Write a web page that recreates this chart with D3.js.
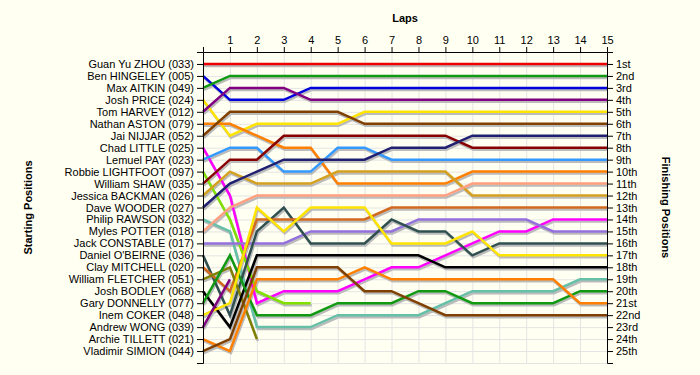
<!DOCTYPE html>
<html>
<head>
<meta charset="utf-8">
<script src="https://cdn.jsdelivr.net/npm/d3@7"></script>
<style>
  body { margin: 0; background: #fffff2; }
  text { font-family: "Liberation Sans", Arial, sans-serif; }
</style>
</head>
<body>
<div id="chart"></div>
<script>
// drivers in starting order
const drivers = [
  "Guan Yu ZHOU (033)", "Ben HINGELEY (005)", "Max AITKIN (049)", "Josh PRICE (024)",
  "Tom HARVEY (012)", "Nathan ASTON (079)", "Jai NIJJAR (052)", "Chad LITTLE (025)",
  "Lemuel PAY (023)", "Robbie LIGHTFOOT (097)", "William SHAW (035)", "Jessica BACKMAN (026)",
  "Dave WOODER (027)", "Philip RAWSON (032)", "Myles POTTER (018)", "Jack CONSTABLE (017)",
  "Daniel O'BEIRNE (036)", "Clay MITCHELL (020)", "William FLETCHER (051)", "Josh BODLEY (068)",
  "Gary DONNELLY (077)", "Inem COKER (048)", "Andrew WONG (039)", "Archie TILLETT (021)",
  "Vladimir SIMION (044)"
];

const colors = [
  "#ee0000", "#0000dd", "#119911", "#ffe400",
  "#800080", "#ff8000", "#804000", "#ff00ff",
  "#3399ff", "#80e000", "#880000", "#d4a020",
  "#202070", "#66c0a8", "#ffa080", "#9370db",
  "#305050", "#d2691e", "#808000", "#000000",
  "#119911", "#ffe400", "#800080", "#ff8000",
  "#804000"
];

// position at lap 0..15 (shorter arrays = retired)
const positions = [
  [1,1,1,1,1,1,1,1,1,1,1,1,1,1,1,1],
  [2,4,4,4,3,3,3,3,3,3,3,3,3,3,3,3],
  [3,2,2,2,2,2,2,2,2,2,2,2,2,2,2,2],
  [4,7,6,6,6,6,5,5,5,5,5,5,5,5,5,5],
  [5,3,3,3,4,4,4,4,4,4,4,4,4,4,4,4],
  [6,6,7,8,8,11,11,11,11,11,10,10,10,10,10,10],
  [7,5,5,5,5,5,6,6,6,6,6,6,6,6,6,6],
  [8,12,21,20,20,20,19,18,18,17,16,15,15,14,14,14],
  [9,8,8,10,10,8,8,9,9,9,9,9,9,9,9,9],
  [10,14,20,21,21],
  [11,9,9,7,7,7,7,7,7,7,8,8,8,8,8,8],
  [12,10,11,11,11,10,10,10,10,10,12,12,12,12,12,12],
  [13,11,10,9,9,9,9,8,8,8,7,7,7,7,7,7],
  [14,15,23,23,23,22,22,22,22,21,20,20,20,20,19,19],
  [15,13,12,12,12,12,12,12,12,12,11,11,11,11,11,11],
  [16,16,16,16,15,15,15,15,14,14,14,14,14,15,15,15],
  [17,22,15,13,16,16,16,14,15,15,17,16,16,16,16,16],
  [18,20,14,14,14,14,14,13,13,13,13,13,13,13,13,13],
  [19,18,24],
  [20,23,17,17,17,17,17,17,17,18,18,18,18,18,18,18],
  [21,17,22,22,22,21,21,21,20,20,21,21,21,21,20,20],
  [22,21,13,15,13,13,13,16,16,16,15,17,17,17,17,17],
  [23,19],
  [24,25,19,19,19,19,18,19,19,19,19,19,19,19,21,21],
  [25,24,18,18,18,18,20,20,21,22,22,22,22,22,22,22]
];

const laps = d3.range(0, 16);
const places = d3.range(1, 26);
const finishLabels = ["1st","2nd","3rd","4th","5th","6th","7th","8th","9th","10th",
  "11th","12th","13th","14th","15th","16th","17th","18th","19th","20th",
  "21st","22nd","23rd","24th","25th"];

const width = 700, height = 375;
const svg = d3.select("#chart").append("svg")
    .attr("width", width)
    .attr("height", height);

const x = d3.scaleLinear().domain([0, 15]).range([203, 607]);
const y = d3.scaleLinear().domain([0, 26]).range([52, 363]);

// grid
svg.append("g").selectAll("line").data(laps).join("line")
    .attr("x1", d => x(d) + 0.5).attr("x2", d => x(d) + 0.5)
    .attr("y1", y(0)).attr("y2", y(26))
    .attr("stroke", "#e4e4e4");
svg.append("g").selectAll("line").data(d3.range(1, 27)).join("line")
    .attr("x1", x(0)).attr("x2", x(15))
    .attr("y1", d => y(d) + 0.5).attr("y2", d => y(d) + 0.5)
    .attr("stroke", "#e4e4e4");

const line = d3.line()
    .x((d, i) => x(i))
    .y(d => y(d));

// shadows first, then the coloured lines
svg.append("g")
    .attr("transform", "translate(1,2)")
  .selectAll("path").data(positions).join("path")
    .attr("fill", "none")
    .attr("stroke", "#bbbbbb")
    .attr("stroke-width", 2.5)
    .attr("d", line);

svg.append("g").selectAll("path").data(positions).join("path")
    .attr("fill", "none")
    .attr("stroke", (d, i) => colors[i])
    .attr("stroke-width", 2.5)
    .attr("d", line);

// axes
svg.append("g")
    .attr("transform", "translate(" + x(0) + ",0)")
    .call(d3.axisLeft(y).tickValues(places).tickSize(6).tickPadding(3)
        .tickFormat(d => drivers[d - 1]));

svg.append("g")
    .attr("transform", "translate(" + x(15) + ",0)")
    .call(d3.axisRight(y).tickValues(places).tickSize(6).tickPadding(3)
        .tickFormat(d => finishLabels[d - 1]));

svg.append("g")
    .attr("transform", "translate(0," + y(0) + ")")
    .call(d3.axisTop(x).tickValues(laps).tickSize(5).tickSizeOuter(0).tickPadding(3)
        .tickFormat(d => d === 0 ? "" : d));

svg.selectAll(".tick text")
    .attr("font-family", "Liberation Sans, Arial, sans-serif")
    .attr("font-size", 11)
    .attr("fill", "#000");

// titles
svg.append("text")
    .attr("x", (x(0) + x(15)) / 2).attr("y", 22)
    .attr("text-anchor", "middle")
    .attr("font-size", 11).attr("font-weight", "bold")
    .text("Laps");

svg.append("text")
    .attr("transform", "translate(32," + y(13) + ") rotate(-90)")
    .attr("text-anchor", "middle")
    .attr("font-size", 11).attr("font-weight", "bold")
    .text("Starting Positions");

svg.append("text")
    .attr("transform", "translate(662," + y(13) + ") rotate(90)")
    .attr("text-anchor", "middle")
    .attr("font-size", 11).attr("font-weight", "bold")
    .text("Finishing Positions");
</script>
</body>
</html>
